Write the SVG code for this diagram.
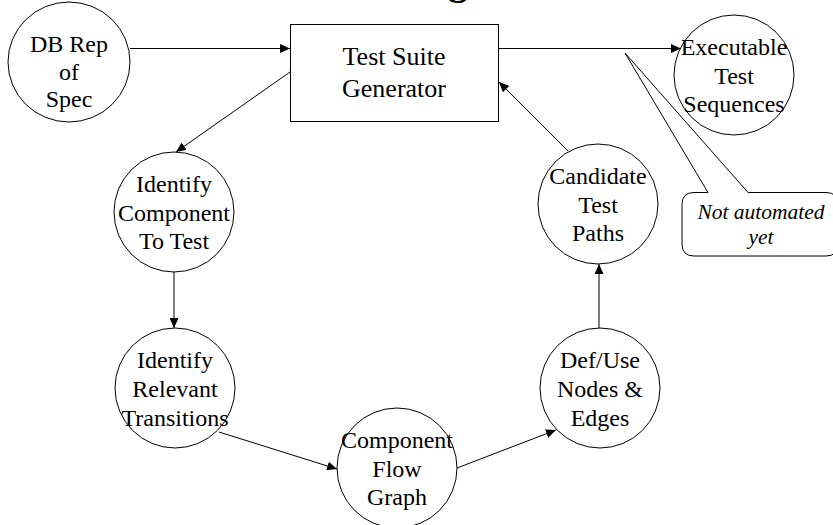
<svg xmlns="http://www.w3.org/2000/svg" width="833" height="525" viewBox="0 0 833 525">
<style>
.shape{fill:#fff;stroke:#000;stroke-width:1}
.lbl{font-family:"Liberation Serif","Times New Roman",serif;font-size:24px;fill:#000;text-anchor:middle}
.big{font-size:26px}
.it{font-style:italic;font-size:21.5px}
.edge{fill:none;stroke:#000;stroke-width:1;marker-end:url(#ah)}
.call{fill:#fff;stroke:#000;stroke-width:1}
</style>
<defs>
<marker id="ah" markerUnits="userSpaceOnUse" markerWidth="11" markerHeight="9" refX="10" refY="4.5" orient="auto">
<path d="M0,0 L10,4.5 L0,9 z" fill="#000"/>
</marker>
</defs>
<rect width="833" height="525" fill="#fff"/>
<text x="458" y="-6" style="font-family:'Liberation Serif','Times New Roman',serif;font-size:40px;font-weight:bold;text-anchor:middle">g</text>

<g id="connectors">
<path class="edge" d="M130,48.5 H290"/>
<path class="edge" d="M498,48.5 H681"/>
<path class="edge" d="M290,72 L176,152"/>
<path class="edge" d="M174,272 V328"/>
<path class="edge" d="M219,432 L337,469"/>
<path class="edge" d="M457,468 L556,430"/>
<path class="edge" d="M599,328 V264"/>
<path class="edge" d="M568,151 L499,82"/>
</g>

<g id="db-rep">
<ellipse class="shape" cx="69" cy="62" rx="61" ry="60"/>
<text class="lbl" x="69" y="52">DB Rep</text>
<text class="lbl" x="69" y="80">of</text>
<text class="lbl" x="69" y="107">Spec</text>
</g>

<g id="test-suite-generator">
<rect class="shape" x="290.5" y="24.5" width="208" height="97"/>
<text class="lbl big" x="394" y="65">Test Suite</text>
<text class="lbl big" x="394" y="97">Generator</text>
</g>

<g id="executable">
<circle class="shape" cx="734" cy="75" r="60"/>
<text class="lbl" x="734" y="55">Executable</text>
<text class="lbl" x="734" y="84">Test</text>
<text class="lbl" x="734" y="112">Sequences</text>
</g>

<g id="identify-component">
<circle class="shape" cx="174" cy="212" r="60"/>
<text class="lbl" x="174" y="192">Identify</text>
<text class="lbl" x="174" y="221">Component</text>
<text class="lbl" x="174" y="249">To Test</text>
</g>

<g id="identify-relevant">
<circle class="shape" cx="175" cy="388" r="60"/>
<text class="lbl" x="175" y="368">Identify</text>
<text class="lbl" x="175" y="397">Relevant</text>
<text class="lbl" x="175" y="426">Transitions</text>
</g>

<g id="component-flow-graph">
<circle class="shape" cx="397" cy="468" r="60"/>
<text class="lbl" x="397" y="448">Component</text>
<text class="lbl" x="397" y="477">Flow</text>
<text class="lbl" x="397" y="505">Graph</text>
</g>

<g id="def-use">
<circle class="shape" cx="600" cy="388" r="60"/>
<text class="lbl" x="600" y="368">Def/Use</text>
<text class="lbl" x="600" y="397">Nodes &amp;</text>
<text class="lbl" x="600" y="426">Edges</text>
</g>

<g id="candidate">
<circle class="shape" cx="598" cy="204" r="60"/>
<text class="lbl" x="598" y="184">Candidate</text>
<text class="lbl" x="598" y="213">Test</text>
<text class="lbl" x="598" y="241">Paths</text>
</g>

<g id="callout">
<path class="call" d="M694,192.5 H708 L625,53 L748,192.5 H826 Q838,192.5 838,204.5 V244 Q838,256 826,256 H694 Q682,256 682,244 V204.5 Q682,192.5 694,192.5 Z"/>
<text class="lbl it" x="761" y="219">Not automated</text>
<text class="lbl it" x="761" y="244">yet</text>
</g>
</svg>
